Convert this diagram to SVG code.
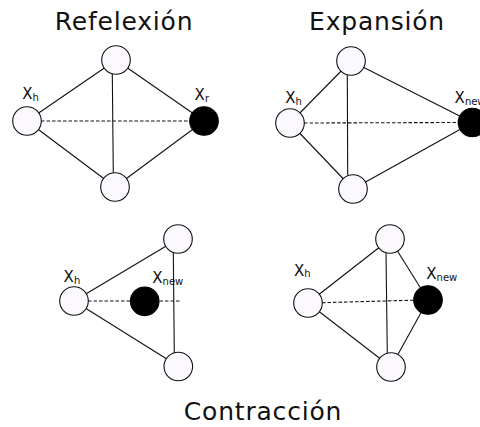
<svg xmlns="http://www.w3.org/2000/svg" width="480" height="427" viewBox="0 0 480 427">
<style>
.title{font-family:"DejaVu Sans","Liberation Sans",sans-serif;font-size:25px;letter-spacing:0.8px;fill:#111;text-anchor:middle}
.lbl{font-family:"DejaVu Sans","Liberation Sans",sans-serif;font-size:15px;fill:#111}
.sub{font-size:10px}
.n{fill:#fcf9fe;stroke:#111;stroke-width:1.1}
.b{fill:#000;stroke:#000;stroke-width:1.1}
.e{stroke:#111;stroke-width:1.1;fill:none}
.d{stroke:#111;stroke-width:1.1;fill:none;stroke-dasharray:3.5 2}
</style>
<rect width="480" height="427" fill="#fff"/>
<text class="title" x="124" y="30">Refelexión</text>
<text class="title" x="377" y="30">Expansión</text>
<text class="title" x="263" y="420">Contracción</text>
<g id="connectors">
  <!-- panel 1 -->
  <line class="e" x1="27" y1="121" x2="116" y2="60"/>
  <line class="e" x1="27" y1="121" x2="115" y2="187"/>
  <line class="e" x1="116" y1="60" x2="204" y2="121"/>
  <line class="e" x1="115" y1="187" x2="204" y2="121"/>
  <line class="e" x1="112.3" y1="74" x2="113.3" y2="174"/>
  <line class="d" x1="41" y1="121" x2="190" y2="121"/>
  <!-- panel 2 -->
  <line class="e" x1="290" y1="123" x2="351" y2="61"/>
  <line class="e" x1="290" y1="123" x2="353" y2="189"/>
  <line class="e" x1="351" y1="61" x2="472.5" y2="122.5"/>
  <line class="e" x1="353" y1="189" x2="472.5" y2="122.5"/>
  <line class="e" x1="347.3" y1="75" x2="347.7" y2="175"/>
  <line class="d" x1="304" y1="123" x2="459" y2="122.5"/>
  <!-- panel 3 -->
  <line class="e" x1="74" y1="301" x2="178" y2="239"/>
  <line class="e" x1="74" y1="301" x2="178" y2="366"/>
  <line class="e" x1="173.3" y1="252" x2="174.3" y2="353"/>
  <line class="d" x1="88" y1="301" x2="181" y2="301"/>
  <!-- panel 4 -->
  <line class="e" x1="308" y1="303" x2="390" y2="239"/>
  <line class="e" x1="308" y1="303" x2="391" y2="367"/>
  <line class="e" x1="390" y1="239" x2="428" y2="300"/>
  <line class="e" x1="391" y1="367" x2="428" y2="300"/>
  <line class="e" x1="386" y1="252" x2="387.3" y2="354"/>
  <line class="d" x1="322" y1="302.7" x2="414" y2="300.2"/>
</g>
<g id="p1-top"><circle class="n" cx="116" cy="60" r="14.3"/></g>
<g id="p1-xh"><circle class="n" cx="27" cy="121" r="14.3"/><text class="lbl" x="22.3" y="99">X<tspan class="sub" dy="1.5">h</tspan></text></g>
<g id="p1-bottom"><circle class="n" cx="115" cy="187" r="14.3"/></g>
<g id="p1-xr"><circle class="b" cx="204" cy="121" r="14.3"/><text class="lbl" x="194.6" y="100">X<tspan class="sub" dy="1.5">r</tspan></text></g>

<g id="p2-top"><circle class="n" cx="351" cy="61" r="14.3"/></g>
<g id="p2-xh"><circle class="n" cx="290" cy="123" r="14.3"/><text class="lbl" x="285.3" y="103">X<tspan class="sub" dy="1.5">h</tspan></text></g>
<g id="p2-bottom"><circle class="n" cx="353" cy="189" r="14.3"/></g>
<g id="p2-xnew"><circle class="b" cx="472.5" cy="122.5" r="14.3"/><text class="lbl" x="454.6" y="103">X<tspan class="sub" dy="1.5">new</tspan></text></g>

<g id="p3-top"><circle class="n" cx="178" cy="239" r="14.3"/></g>
<g id="p3-xh"><circle class="n" cx="74" cy="301" r="14.3"/><text class="lbl" x="63.6" y="282">X<tspan class="sub" dy="1.5">h</tspan></text></g>
<g id="p3-bottom"><circle class="n" cx="178.3" cy="366.5" r="14.3"/></g>
<g id="p3-xnew"><circle class="b" cx="144.7" cy="301.3" r="14.3"/><text class="lbl" x="152.3" y="283">X<tspan class="sub" dy="1.5">new</tspan></text></g>

<g id="p4-top"><circle class="n" cx="390" cy="239" r="14.3"/></g>
<g id="p4-xh"><circle class="n" cx="308" cy="303" r="14.3"/><text class="lbl" x="294" y="275.5">X<tspan class="sub" dy="1.5">h</tspan></text></g>
<g id="p4-bottom"><circle class="n" cx="391" cy="367" r="14.3"/></g>
<g id="p4-xnew"><circle class="b" cx="428" cy="300" r="14.3"/><text class="lbl" x="426.3" y="279">X<tspan class="sub" dy="1.5">new</tspan></text></g>
</svg>
